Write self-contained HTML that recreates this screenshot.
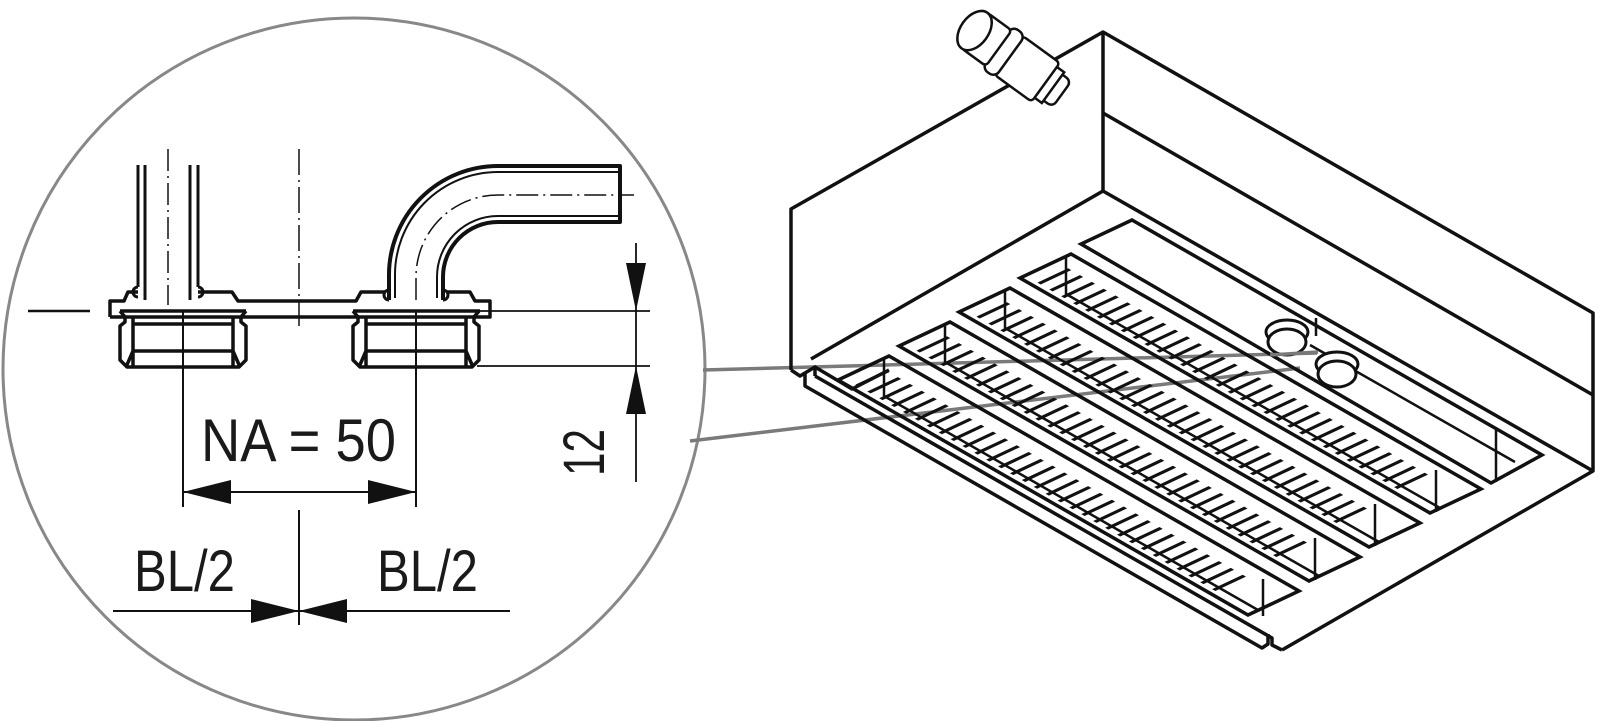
<!DOCTYPE html>
<html><head><meta charset="utf-8"><style>
html,body{margin:0;padding:0;background:#fff;}
svg{display:block;}
text{font-family:"Liberation Sans",sans-serif;fill:#1a1a1a;}
</style></head><body>
<svg width="1600" height="721" viewBox="0 0 1600 721" xmlns="http://www.w3.org/2000/svg">

<circle cx="354" cy="369" r="351" fill="none" stroke="#888" stroke-width="3"/>
<line x1="703" y1="370" x2="1317" y2="353" stroke="#7a7a7a" stroke-width="3.5"/>
<line x1="690" y1="441" x2="1300" y2="368" stroke="#7a7a7a" stroke-width="3.5"/>

<g stroke="#111" fill="none" stroke-linejoin="round">
 <line x1="28" y1="311" x2="90" y2="311" stroke-width="2.5"/>
 <g stroke-width="3">
  <line x1="138" y1="165" x2="138" y2="287"/><line x1="145" y1="165" x2="145" y2="300"/>
  <line x1="190" y1="165" x2="190" y2="300"/><line x1="198" y1="165" x2="198" y2="287"/>
 </g>
 <path d="M138,287 a5,5 0 1 0 0,10 M198,287 a5,5 0 1 1 0,10" stroke-width="3"/>
 <line x1="168" y1="149" x2="168" y2="305" stroke-width="1.5" stroke-dasharray="22,5,2,5"/>
 <line x1="299" y1="149" x2="299" y2="326" stroke-width="1.5" stroke-dasharray="26,5,2,5"/>
 <path d="M110,317 L110,301 L124,301 L128,292 L138,292 M198,292 L232,292 L238,301 L356,301 L361,292 L385,292 M447,292 L470,292 L475,301 L490,301 L490,317 L110,317" stroke-width="3.5"/>
 <line x1="120" y1="311" x2="246" y2="311" stroke-width="3.5"/>
 <line x1="353" y1="311" x2="480" y2="311" stroke-width="3.5"/>
 <g stroke-width="3.5">
  <path d="M120,311 L125,317 L125,322 L120,326 L120,360 L127,367 L239,367 L246,360 L246,326 L241,322 L241,317 L246,311"/>
  <path d="M133,317 L133,367 M233,317 L233,367 M133,324 L233,324 M133,351 L233,351 M133,351 L126,367 M233,351 L240,367"/>
  <path d="M353,311 L358,317 L358,322 L353,326 L353,360 L360,367 L472,367 L479,360 L479,326 L474,322 L474,317 L479,311"/>
  <path d="M366,317 L366,367 M466,317 L466,367 M366,324 L466,324 M366,351 L466,351 M366,351 L359,367 M466,351 L473,367"/>
 </g>
 <path d="M389,300 L389,277 A109,109 0 0 1 498,166 L620,166 L620,222 L498,222 A55,55 0 0 0 443,277 L443,300" stroke-width="4"/>
 <path d="M395,298 L395,277 A103,103 0 0 1 498,172 L618,172 M618,216 L498,216 A61,61 0 0 0 437,277 L437,298" stroke-width="2"/>
 <path d="M389,290 a5,5 0 1 0 0,10 M443,290 a5,5 0 1 1 0,10" stroke-width="3"/>
 <path d="M416,300 L416,277 A82,82 0 0 1 498,195 L634,195" stroke-width="1.5" stroke-dasharray="22,5,2,5"/>
 <line x1="183" y1="311" x2="183" y2="507" stroke-width="2"/>
 <line x1="416" y1="311" x2="416" y2="507" stroke-width="2"/>
 <line x1="477" y1="311" x2="650" y2="311" stroke-width="1.8"/>
 <line x1="477" y1="366" x2="650" y2="366" stroke-width="1.8"/>
 <line x1="636" y1="243" x2="636" y2="482" stroke-width="1.8"/>
 <line x1="183" y1="492" x2="416" y2="492" stroke-width="2"/>
 <line x1="113" y1="611" x2="510" y2="611" stroke-width="2"/>
 <line x1="299" y1="510" x2="299" y2="625" stroke-width="2"/>
</g>
<g fill="#111">
 <polygon points="636,311 626,263 646,263"/>
 <polygon points="636,366 626,414 646,414"/>
 <polygon points="183,492 231,480 231,504"/>
 <polygon points="416,492 368,480 368,504"/>
 <polygon points="299,611 251,599 251,623"/>
 <polygon points="299,611 347,599 347,623"/>
</g>
<text x="201" y="461" font-size="60" textLength="195" lengthAdjust="spacingAndGlyphs">NA = 50</text>
<text x="134" y="591" font-size="58" textLength="101" lengthAdjust="spacingAndGlyphs">BL/2</text>
<text x="377" y="591" font-size="58" textLength="101" lengthAdjust="spacingAndGlyphs">BL/2</text>
<text transform="translate(604,476) rotate(-90)" font-size="58" textLength="47" lengthAdjust="spacingAndGlyphs">12</text>

<!-- RIGHT BOX -->
<g stroke="#111" fill="none" stroke-width="3.5" stroke-linejoin="round">
 <path d="M791,370 L791,209 L1103,32 L1593,313 L1593,471 L1282,650"/>
 <path d="M1103,32 L1103,191 L1593,471"/>
 <path d="M1103,113 L1593,395"/>
 <path d="M1103,191 L811,359"/>
 <!-- lip -->
 <path d="M791,370 L800,376 L815,367 L815,376"/>
 <path d="M805,372 L805,386 L1262,648 L1268,644 L1268,634"/>
 <path d="M815,376 L1272,638 L1272,645 L1282,650"/>
 <path d="M815,367 L852,389 L889,370"/>
</g>
<g stroke="#111" fill="none" stroke-width="3.5">
 <polygon points="1132,220 1542,455 1491,483 1081,244"/>
 <polygon points="1071,254 1481,489 1430,513 1020,278"/>
 <polygon points="1010,288 1420,523 1369,547 959,312"/>
 <polygon points="950,322 1360,557 1309,581 899,346"/>
 <polygon points="889,356 1299,591 1248,615 838,380"/>
</g>
<g stroke="#111" fill="none">
 <g transform="matrix(410,235,-51,24,1071,254)">
  <line x1="0.03" y1="0.6" x2="0.91" y2="0.6" stroke-width="0.6" stroke-dasharray="0.008,0.021"/>
 </g>
 <g transform="matrix(410,235,-51,24,1010,288)">
  <line x1="0.03" y1="0.6" x2="0.91" y2="0.6" stroke-width="0.6" stroke-dasharray="0.008,0.021"/>
 </g>
 <g transform="matrix(410,235,-51,24,950,322)">
  <line x1="0.03" y1="0.6" x2="0.91" y2="0.6" stroke-width="0.6" stroke-dasharray="0.008,0.021"/>
 </g>
 <g transform="matrix(410,235,-51,24,889,356)">
  <line x1="0.03" y1="0.6" x2="0.91" y2="0.6" stroke-width="0.6" stroke-dasharray="0.008,0.021"/>
 </g>
</g>
<g stroke="#111" fill="none" stroke-width="2.5">
 <path d="M1066,257 L1066,294 L1440,508 M1436,470 L1436,512"/>
 <path d="M1005,291 L1005,328 L1379,542 M1375,504 L1375,546"/>
 <path d="M945,325 L945,362 L1319,576 M1315,538 L1315,580"/>
 <path d="M884,359 L884,396 L1258,610 M1263,579 L1263,616"/>
 <path d="M1496,430 L1496,482 M1316,318 L1316,336 M1310,345 L1515,462"/>
</g>
<g stroke="#111" stroke-width="3" fill="#fff">
 <ellipse cx="1287" cy="332" rx="21" ry="12"/>
 <ellipse cx="1287" cy="342" rx="19" ry="13"/>
 <ellipse cx="1337" cy="364" rx="21" ry="12"/>
 <ellipse cx="1337" cy="374" rx="19" ry="13"/>
</g>
<line x1="1270" y1="355" x2="1318" y2="352" stroke="#7a7a7a" stroke-width="3.5"/>
<g transform="translate(1015,60) rotate(36)" stroke="#111" stroke-width="2.5" fill="#fff">
 <rect x="42" y="-16" width="16" height="32" rx="6"/>
 <rect x="35" y="-19" width="12" height="38"/>
 <rect x="-8" y="-24" width="46" height="48" rx="4"/>
 <rect x="-22" y="-26" width="16" height="52" rx="7"/>
 <rect x="-50" y="-22" width="30" height="44" rx="4"/>
 <ellipse cx="-50" cy="0" rx="14" ry="22"/>
</g>
</svg>
</body></html>
